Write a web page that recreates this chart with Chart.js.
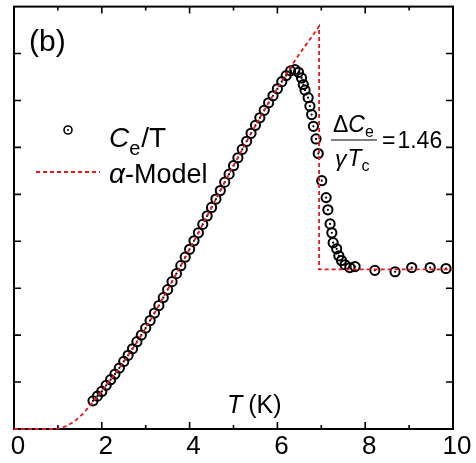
<!DOCTYPE html>
<html>
<head>
<meta charset="utf-8">
<script src="https://cdn.jsdelivr.net/npm/chart.js@4.4.1/dist/chart.umd.min.js"></script>
<style>
  body { margin: 0; background: #fff; }
  #wrap { width: 476px; height: 463px; }
</style>
</head>
<body>
<div id="wrap"><canvas id="myChart" width="476" height="463"></canvas></div>
<script>
const tempData = [1.80, 1.90, 2.00, 2.10, 2.20, 2.30, 2.40, 2.50, 2.60, 2.70,
  2.80, 2.90, 3.00, 3.10, 3.20, 3.30, 3.40, 3.50, 3.60, 3.70,
  3.80, 3.90, 4.00, 4.10, 4.20, 4.30, 4.40, 4.50, 4.60, 4.70,
  4.80, 4.90, 5.00, 5.10, 5.20, 5.30, 5.40, 5.50, 5.60, 5.70,
  5.80, 5.90, 6.00, 6.10, 6.20, 6.30, 6.40, 6.48, 6.55, 6.59,
  6.63, 6.70, 6.74, 6.78, 6.82, 6.88, 6.93, 7.01, 7.11, 7.15,
  7.20, 7.24, 7.27, 7.35, 7.40, 7.46, 7.54, 7.65, 7.77, 8.22,
  8.68, 9.06, 9.48, 9.84]
const ceData = [0.60, 0.70, 0.80, 0.93, 1.05, 1.17, 1.30, 1.44, 1.57, 1.71,
  1.86, 2.00, 2.15, 2.31, 2.47, 2.63, 2.80, 2.97, 3.14, 3.31,
  3.48, 3.66, 3.83, 4.01, 4.18, 4.36, 4.54, 4.72, 4.90, 5.08,
  5.26, 5.43, 5.61, 5.78, 5.96, 6.13, 6.30, 6.47, 6.63, 6.79,
  6.95, 7.10, 7.25, 7.40, 7.53, 7.63, 7.66, 7.60, 7.48, 7.34,
  7.22, 7.06, 6.88, 6.70, 6.45, 6.18, 5.87, 5.29, 4.93, 4.67,
  4.37, 4.18, 3.97, 3.84, 3.69, 3.59, 3.50, 3.44, 3.46, 3.38,
  3.35, 3.44, 3.44, 3.42]

// alpha-model curve
const tempModel = [0, 0.5, 0.95, 1.0, 1.2, 1.4, 1.6, 1.8, 2.0, 2.2, 2.4, 2.6,
  2.8, 3.0, 3.2, 3.4, 3.6, 3.8, 4.0, 4.2, 4.4, 4.6, 4.8, 5.0, 5.2, 5.4,
  5.6, 5.8, 6.0, 6.2, 6.4, 6.6, 6.8, 6.95, 6.95, 8.0, 10.0]
const ceModel = [0, 0, 0, 0.01, 0.06, 0.18, 0.35, 0.58, 0.80, 1.05, 1.30, 1.57,
  1.85, 2.15, 2.47, 2.80, 3.14, 3.48, 3.83, 4.18, 4.54, 4.90, 5.26, 5.61, 5.96, 6.30,
  6.63, 6.95, 7.26, 7.56, 7.85, 8.12, 8.38, 8.58, 3.40, 3.40, 3.40]

const xTicks = [0, 2, 4, 6, 8, 10]
const xMinor = [1, 3, 5, 7, 9]
const yTicks = [1, 2, 3, 4, 5, 6, 7, 8]

const red = "#e3191e"
const font = "'Liberation Sans', Arial, sans-serif"

const points = tempData.map((t, i) => ({ x: t, y: ceData[i] }))
const model = tempModel.map((t, i) => ({ x: t, y: ceModel[i] }))

// write a row of text pieces, each with its own font and baseline shift
function writeRun(ctx, parts, x, y) {
  parts.forEach((p) => {
    ctx.font = p.f + " " + font
    ctx.fillText(p.t, x, y + (p.dy || 0))
    x += ctx.measureText(p.t).width + (p.gap || 0)
  })
}

const extras = {
  id: "extras",
  // frame and ticks go under the marks, the red model line runs over the axis
  beforeDatasetsDraw(chart) {
    const { ctx, chartArea: a, scales: { x, y } } = chart
    ctx.save()
    ctx.strokeStyle = "#000"
    ctx.lineWidth = 1.6
    ctx.beginPath()
    xTicks.concat(xMinor).forEach((v) => {
      const px = x.getPixelForValue(v)
      const len = xTicks.includes(v) ? 7 : 4
      ctx.moveTo(px, a.bottom); ctx.lineTo(px, a.bottom - len)
      ctx.moveTo(px, a.top); ctx.lineTo(px, a.top + len)
    })
    yTicks.forEach((v) => {
      const py = y.getPixelForValue(v)
      ctx.moveTo(a.left, py); ctx.lineTo(a.left + 7, py)
      ctx.moveTo(a.right, py); ctx.lineTo(a.right - 7, py)
    })
    ctx.stroke()
    ctx.lineWidth = 2
    ctx.strokeRect(a.left, a.top, a.right - a.left, a.bottom - a.top)
    ctx.restore()
  },
  afterDraw(chart) {
    const { ctx } = chart
    ctx.save()
    ctx.strokeStyle = "#000"
    ctx.fillStyle = "#000"
    ctx.textBaseline = "alphabetic"
    ctx.textAlign = "left"
    writeRun(ctx, [{ t: "(b)", f: "30px" }], 29, 51)

    // legend
    ctx.lineWidth = 1.6
    ctx.beginPath()
    ctx.arc(68, 130, 4, 0, Math.PI * 2)
    ctx.stroke()
    ctx.beginPath()
    ctx.arc(68, 130, 1, 0, Math.PI * 2)
    ctx.fill()
    writeRun(ctx, [
      { t: "C", f: "italic 28px" },
      { t: "e", f: "20px", dy: 8, gap: 1 },
      { t: "/T", f: "28px" }
    ], 109, 147)

    ctx.strokeStyle = red
    ctx.lineWidth = 1.8
    ctx.setLineDash([4, 3])
    ctx.beginPath()
    ctx.moveTo(36, 172); ctx.lineTo(100, 172)
    ctx.stroke()
    ctx.setLineDash([])
    writeRun(ctx, [
      { t: "\u03b1", f: "italic 28px" },
      { t: "-Model", f: "27px" }
    ], 109, 183)

    // axis title
    writeRun(ctx, [
      { t: "T", f: "italic 25px", gap: 6 },
      { t: "(K)", f: "25px" }
    ], 227, 413)

    // jump ratio
    writeRun(ctx, [
      { t: "\u0394", f: "23px" },
      { t: "C", f: "italic 23px" },
      { t: "e", f: "16px", dy: 5 }
    ], 333, 132)
    ctx.strokeStyle = "#000"
    ctx.lineWidth = 1.2
    ctx.beginPath()
    ctx.moveTo(331, 140); ctx.lineTo(377, 140)
    ctx.stroke()
    writeRun(ctx, [
      { t: "\u03b3", f: "italic 23px", gap: 1 },
      { t: "T", f: "italic 23px" },
      { t: "c", f: "16px", dy: 5 }
    ], 335, 166)
    writeRun(ctx, [
      { t: "=", f: "23px", gap: 2 },
      { t: "1.46", f: "23px" }
    ], 382, 148)

    ctx.restore()
  }
}

const myChart = new Chart(document.getElementById("myChart"), {
  type: "scatter",
  data: {
    datasets: [
      {
        label: "\u03b1-Model",
        data: model,
        showLine: true,
        borderColor: red,
        borderWidth: 1.8,
        borderDash: [4, 3],
        pointRadius: 0,
        tension: 0,
        clip: 4,
        order: 0
      },
      {
        label: "Ce/T",
        data: points,
        pointStyle: "circle",
        pointRadius: 4.6,
        pointBorderWidth: 2,
        pointBorderColor: "#000",
        pointBackgroundColor: "rgba(255,255,255,0)",
        order: 1
      },
      {
        label: "centre",
        data: points,
        pointRadius: 1.1,
        pointBorderWidth: 0,
        pointBackgroundColor: "#000",
        order: 2
      }
    ]
  },
  options: {
    responsive: false,
    animation: false,
    devicePixelRatio: 1,
    layout: { padding: { left: 14, right: 23, top: 5, bottom: 0 } },
    plugins: { legend: { display: false }, tooltip: { enabled: false } },
    scales: {
      x: {
        type: "linear",
        min: 0,
        max: 10,
        afterBuildTicks: (axis) => { axis.ticks = xTicks.map((v) => ({ value: v })) },
        afterFit: (axis) => { axis.height = 34 },
        grid: { display: false, drawTicks: false },
        border: { display: false },
        ticks: { color: "#000", font: { family: font, size: 26 }, padding: 2, labelOffset: 4, maxRotation: 0 }
      },
      y: {
        type: "linear",
        min: 0,
        max: 9,
        afterFit: (axis) => { axis.width = 0 },
        grid: { display: false, drawTicks: false },
        border: { display: false },
        ticks: { display: false }
      }
    }
  },
  plugins: [extras]
})
</script>
</body>
</html>
